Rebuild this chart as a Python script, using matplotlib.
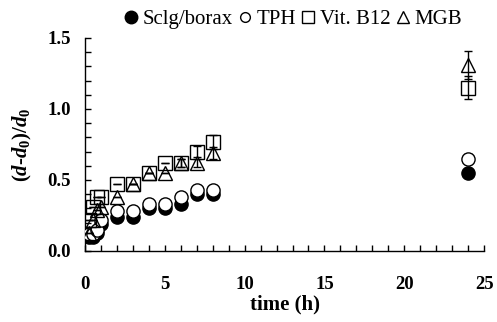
import matplotlib
matplotlib.use("Agg")
import matplotlib.pyplot as plt
from matplotlib.ticker import MultipleLocator
from matplotlib.lines import Line2D

plt.rcParams['font.family'] = ['Liberation Serif', 'DejaVu Serif']
plt.rcParams['mathtext.fontset'] = 'custom'
plt.rcParams['mathtext.rm'] = 'Liberation Serif:bold'
plt.rcParams['mathtext.it'] = 'Liberation Serif:bold:italic'
plt.rcParams['mathtext.bf'] = 'Liberation Serif:bold'

time_h = [0.25, 0.5, 0.75, 1, 2, 3, 4, 5, 6, 7, 8, 24]
sclg = [0.10, 0.10, 0.13, 0.19, 0.24, 0.24, 0.30, 0.30, 0.33, 0.40, 0.40, 0.55]
sclg_err = [0, 0, 0, 0, 0, 0, 0, 0, 0, 0, 0, 0.02]
tph = [0.12, 0.12, 0.15, 0.22, 0.28, 0.28, 0.33, 0.33, 0.38, 0.43, 0.43, 0.65]
tph_err = [0, 0, 0, 0, 0, 0, 0, 0, 0, 0, 0, 0.03]
vitb12 = [0.22, 0.31, 0.38, 0.38, 0.47, 0.47, 0.55, 0.62, 0.62, 0.70, 0.77, 1.15]
vitb12_err = [0, 0, 0, 0, 0, 0, 0, 0, 0.03, 0.04, 0.05, 0.08]
mgb = [0.13, 0.22, 0.29, 0.31, 0.38, 0.47, 0.55, 0.55, 0.62, 0.62, 0.69, 1.31]
mgb_err = [0, 0, 0, 0, 0, 0, 0, 0, 0.03, 0.03, 0.04, 0.10]
labels = ['Sclg/borax', 'TPH', 'Vit. B12', 'MGB']

fig = plt.figure(figsize=(4.97, 3.22), dpi=100)
ax = fig.add_axes([0.171, 0.2205, 0.803, 0.6615])

common = dict(linestyle='none', markersize=9.5, markeredgewidth=1.0,
              ecolor='black', elinewidth=1.0, capsize=3, capthick=1.0,
              markeredgecolor='black')
ax.errorbar(time_h, sclg, yerr=sclg_err, marker='o', markerfacecolor='black', zorder=3, **common)
ax.errorbar(time_h, tph, yerr=tph_err, marker='o', markerfacecolor='white', zorder=4, **common)
ax.errorbar(time_h, vitb12, yerr=vitb12_err, marker='s', markerfacecolor='none', zorder=5, **common)
ax.errorbar(time_h, mgb, yerr=mgb_err, marker='^', markerfacecolor='none', zorder=6, **common)

ax.set_xlim(0, 25)
ax.set_ylim(0, 1.5)
ax.xaxis.set_major_locator(MultipleLocator(5))
ax.xaxis.set_minor_locator(MultipleLocator(1))
ax.yaxis.set_major_locator(MultipleLocator(0.5))
ax.yaxis.set_minor_locator(MultipleLocator(0.1))
ax.tick_params(which='both', direction='in', length=4, width=1.0, top=False, right=False)
ax.tick_params(axis='x', which='major', labelsize=13.5, pad=18)
ax.tick_params(axis='y', which='major', labelsize=13.5, pad=10)
ax.yaxis.set_major_formatter(plt.FuncFormatter(lambda v, p: f'{v:.1f}'))
for lab in ax.get_xticklabels() + ax.get_yticklabels():
    lab.set_fontweight('bold')
ax.spines['top'].set_visible(False)
ax.spines['right'].set_visible(False)
for s in ('left', 'bottom'):
    ax.spines[s].set_linewidth(1.0)

ax.set_xlabel('time (h)', fontsize=15, fontweight='bold', labelpad=1)
ax.set_ylabel(r'$(d$-$d_\mathrm{0})/d_\mathrm{0}$', fontsize=15, labelpad=10)

handles = [
    Line2D([], [], linestyle='none', marker='o', markersize=9, markerfacecolor='black', markeredgecolor='black'),
    Line2D([], [], linestyle='none', marker='o', markersize=7, markerfacecolor='white', markeredgecolor='black'),
    Line2D([], [], linestyle='none', marker='s', markersize=8, markerfacecolor='white', markeredgecolor='black'),
    Line2D([], [], linestyle='none', marker='^', markersize=8, markerfacecolor='white', markeredgecolor='black'),
]
fig.legend(handles, labels, loc='center', bbox_to_anchor=(0.59, 0.94), ncol=4, frameon=False,
           fontsize=15, handlelength=0.6, handletextpad=0.25, columnspacing=0.3, borderpad=0)

fig.savefig('out.png', dpi=100)
